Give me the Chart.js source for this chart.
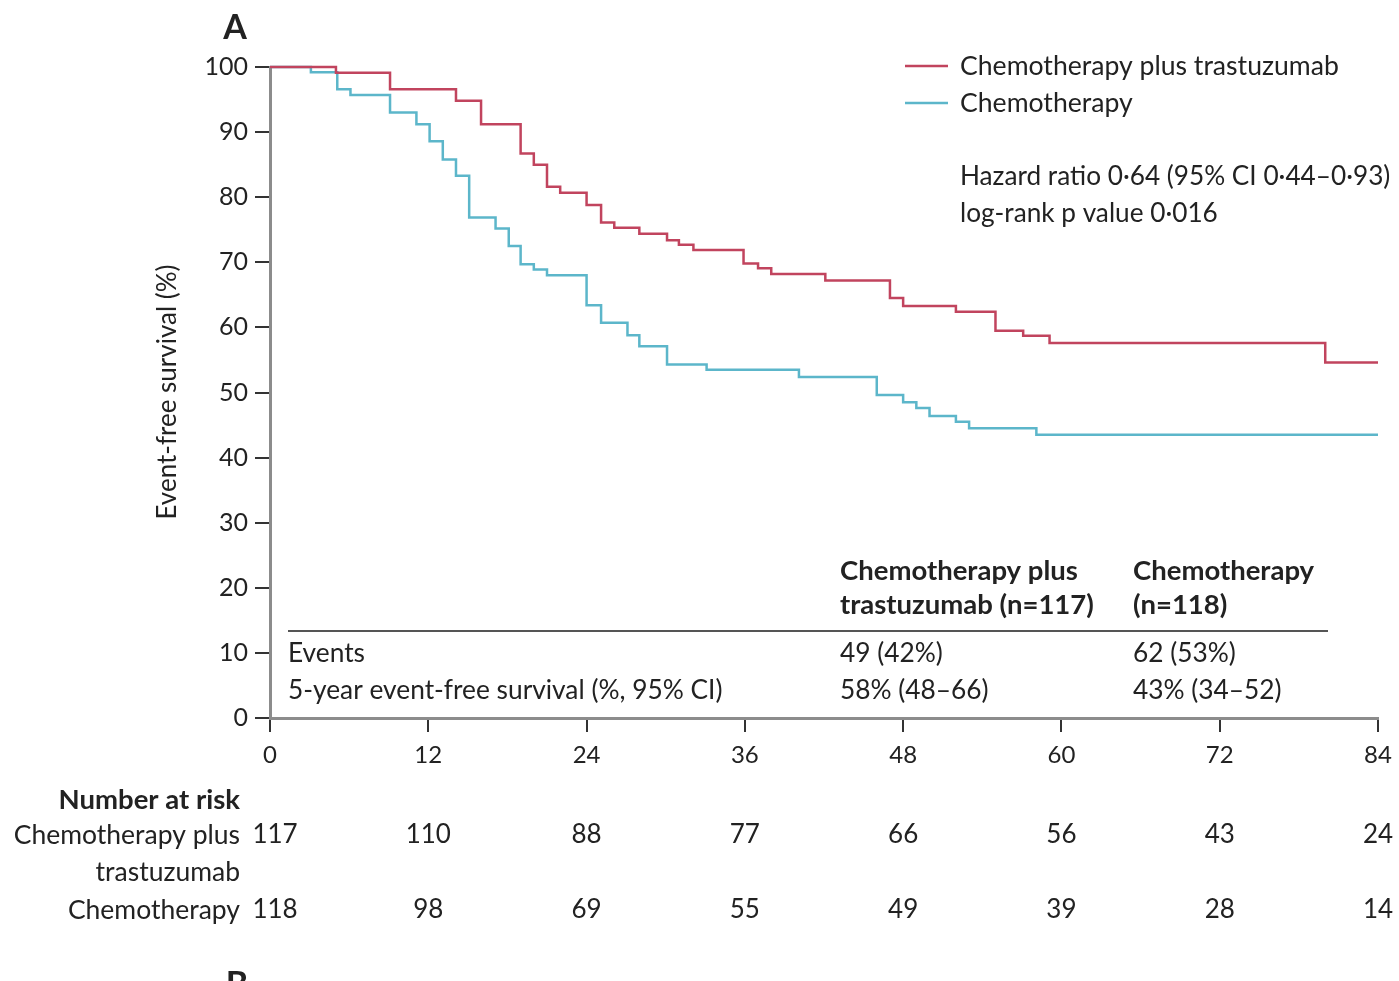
<!DOCTYPE html>
<html>
<head>
<meta charset="utf-8">
<script src="https://cdn.jsdelivr.net/npm/chart.js@4.4.1/dist/chart.umd.min.js"></script>
<style>
  html, body { margin: 0; padding: 0; background: #fff; }
  canvas { display: block; }
</style>
</head>
<body>
<canvas id="km" width="1399" height="981"></canvas>
<script>
// Kaplan–Meier event-free survival, by arm (months, % event-free)
const monthsCT   = [0, 5.0, 9.1, 14.1, 16.0, 19.0, 20.0, 21.0, 22.0, 24.0, 25.1, 26.1, 28.0, 30.1, 31.0, 32.1, 35.9, 37.0, 38.0, 42.1, 47.0, 48.0, 52.0, 55.0, 57.1, 59.1, 80.0, 84.0];
const survivalCT = [100, 99.1, 96.6, 94.8, 91.2, 86.7, 85.0, 81.6, 80.7, 78.8, 76.1, 75.3, 74.4, 73.4, 72.7, 71.9, 69.8, 69.1, 68.2, 67.2, 64.5, 63.3, 62.4, 59.5, 58.7, 57.6, 54.6, 54.6];

const monthsC    = [0, 3.1, 5.1, 6.1, 9.1, 11.1, 12.1, 13.1, 14.1, 15.1, 17.1, 18.1, 19.0, 20.0, 21.0, 24.0, 25.1, 27.1, 28.0, 30.1, 33.1, 40.1, 46.0, 48.0, 49.0, 50.0, 52.0, 53.0, 58.1, 84.0];
const survivalC  = [100, 99.2, 96.6, 95.7, 93.0, 91.2, 88.6, 85.8, 83.3, 76.9, 75.2, 72.5, 69.7, 68.9, 68.0, 63.4, 60.7, 58.8, 57.1, 54.3, 53.5, 52.4, 49.6, 48.5, 47.6, 46.4, 45.5, 44.5, 43.5, 43.5];

// Axis ticks
const xTicks = [0, 12, 24, 36, 48, 60, 72, 84];
const yTicks = [0, 10, 20, 30, 40, 50, 60, 70, 80, 90, 100];

// Number at risk at each x tick
const riskCT = [117, 110, 88, 77, 66, 56, 43, 24];
const riskC  = [118, 98, 69, 55, 49, 39, 28, 14];

// Series names and summary table text
const seriesNames = ['Chemotherapy plus trastuzumab', 'Chemotherapy'];
const statLines = ['Hazard ratio 0·64 (95% CI 0·44–0·93)', 'log-rank p value 0·016'];
const tableRows = ['Events', '5-year event-free survival (%, 95% CI)'];
const tableCT = ['49 (42%)', '58% (48–66)'];
const tableC  = ['62 (53%)', '43% (34–52)'];

const RED = '#c1445e';
const BLUE = '#5cb6ca';
const INK = '#222';
const FONT = 'Lato, "Open Sans", sans-serif';

const toPoints = (xs, ys) => xs.map((x, i) => ({ x, y: ys[i] }));

const annotations = {
  id: 'annotations',
  beforeDraw(chart) {
    const c = chart.ctx;
    c.save();
    c.fillStyle = '#fff';
    c.fillRect(0, 0, chart.width, chart.height);
    c.restore();
  },
  afterDraw(chart) {
    const c = chart.ctx;
    const xs = chart.scales.x;
    c.save();
    c.fillStyle = INK;
    c.textBaseline = 'middle';

    // panel letters
    c.font = `bold 34px ${FONT}`;
    c.textAlign = 'center';
    c.fillText('A', 235, 28);
    c.fillText('B', 237, 985);

    // y-axis title
    c.save();
    c.translate(168, 392);
    c.rotate(-Math.PI / 2);
    c.font = `26px ${FONT}`;
    c.fillText('Event-free survival (%)', 0, 0);
    c.restore();

    // legend
    c.lineWidth = 2.5;
    [RED, BLUE].forEach((col, i) => {
      const y = 66 + i * 37;
      c.strokeStyle = col;
      c.beginPath(); c.moveTo(905, y); c.lineTo(948, y); c.stroke();
      c.font = `26.6px ${FONT}`;
      c.textAlign = 'left';
      c.fillText(seriesNames[i], 960, y);
    });

    // hazard ratio
    c.font = `26.2px ${FONT}`;
    statLines.forEach((t, i) => c.fillText(t, 960, 177 + i * 37));

    // summary table
    c.font = `bold 27.5px ${FONT}`;
    c.fillText('Chemotherapy plus', 840, 571);
    c.fillText('trastuzumab (n=117)', 840, 605);
    c.fillText('Chemotherapy', 1133, 571);
    c.fillText('(n=118)', 1133, 605);
    c.strokeStyle = '#555';
    c.lineWidth = 2;
    c.beginPath(); c.moveTo(288, 631); c.lineTo(1328, 631); c.stroke();
    c.font = `26.3px ${FONT}`;
    tableRows.forEach((t, i) => {
      const y = 654 + i * 37;
      c.fillText(t, 288, y);
      c.fillText(tableCT[i], 840, y);
      c.fillText(tableC[i], 1133, y);
    });

    // number at risk
    c.textAlign = 'right';
    c.font = `bold 27.5px ${FONT}`;
    c.fillText('Number at risk', 240, 800);
    c.font = `26.5px ${FONT}`;
    c.fillText('Chemotherapy plus', 240, 835);
    c.fillText('trastuzumab', 240, 872);
    c.fillText('Chemotherapy', 240, 910);
    c.font = `26px ${FONT}`;
    c.textAlign = 'center';
    xTicks.forEach((m, i) => {
      const px = xs.getPixelForValue(m) + (i === 0 ? 5 : 0);
      c.fillText(String(riskCT[i]), px, 835);
      c.fillText(String(riskC[i]), px, 910);
    });
    c.restore();
  }
};

new Chart(document.getElementById('km'), {
  type: 'line',
  data: {
    datasets: [
      { label: seriesNames[0], data: toPoints(monthsCT, survivalCT), borderColor: RED, borderWidth: 2.5, stepped: true, pointRadius: 0, fill: false, clip: 6 },
      { label: seriesNames[1], data: toPoints(monthsC, survivalC), borderColor: BLUE, borderWidth: 2.5, stepped: true, pointRadius: 0, fill: false, clip: 6 }
    ]
  },
  options: {
    responsive: false,
    animation: false,
    events: [],
    layout: { padding: { top: 67, right: 21, left: 0, bottom: 0 } },
    scales: {
      x: {
        type: 'linear', min: 0, max: 84,
        afterBuildTicks: s => { s.ticks = xTicks.map(v => ({ value: v })); },
        afterFit: s => { s.height = 263; s.paddingRight = 0; },
        grid: { drawOnChartArea: false, drawTicks: true, tickLength: 14, color: '#333', lineWidth: 2 },
        border: { color: '#8c8c8c', width: 3 },
        ticks: { color: INK, font: { family: FONT, size: 24 }, padding: 9, maxRotation: 0 }
      },
      y: {
        min: 0, max: 100,
        afterBuildTicks: s => { s.ticks = yTicks.map(v => ({ value: v })); },
        afterFit: s => { s.width = 270; },
        grid: { drawOnChartArea: false, drawTicks: true, tickLength: 15, color: '#333', lineWidth: 2 },
        border: { color: '#8c8c8c', width: 3 },
        ticks: { color: INK, font: { family: FONT, size: 25 }, padding: 7 }
      }
    },
    plugins: { legend: { display: false }, tooltip: { enabled: false } }
  },
  plugins: [annotations]
});
</script>
</body>
</html>
